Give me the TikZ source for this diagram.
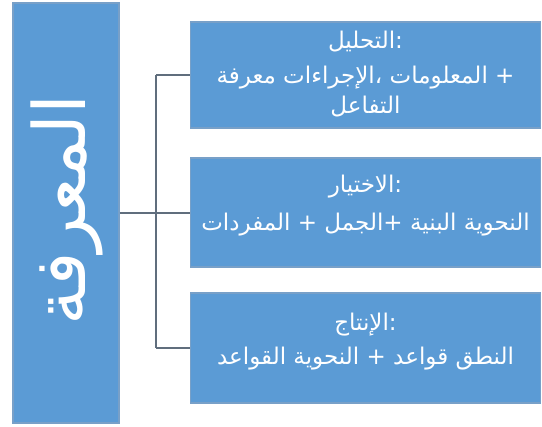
\documentclass[tikz,border=0pt]{standalone}
\usepackage{fontspec}
\newfontfamily\arabicfont[Script=Arabic]{DejaVu Sans}
\TeXXeTstate=1
\definecolor{boxblue}{RGB}{91,155,213}
\definecolor{boxedge}{RGB}{120,160,200}
\definecolor{linegrey}{RGB}{96,110,125}
\newcommand{\rw}[1]{\mbox{\beginR #1\endR}}
\tikzset{
  bluebox/.style={fill=boxblue, draw=boxedge, line width=1.5pt, inner sep=0pt},
  txt/.style={text=white, inner sep=0pt, font=\arabicfont\fontsize{23}{27}\selectfont}
}
\tikzset{conn/.style={draw=linegrey, line width=1.3pt}}
\begin{document}
\begin{tikzpicture}[x=1pt,y=-1pt]
\useasboundingbox (0,0) rectangle (542,427);
\node[bluebox, minimum width=106pt, minimum height=420pt] (m) at (66,213) {};
\node[text=white, rotate=90, font=\arabicfont\fontsize{72}{76}\selectfont] (mt) at (67,210) {\rw{المعرفة}};
\node[bluebox, minimum width=350pt, minimum height=106pt] (a) at (365.5,75) {};
\node[txt] (a1) at (365.5,42) {\rw{التحليل}:};
\node[txt] (a2) at (365.5,78) {\rw{معرفة} \rw{الإجراءات}، \rw{المعلومات} +};
\node[txt] (a3) at (365.5,107) {\rw{التفاعل}};
\node[bluebox, minimum width=350pt, minimum height=109pt] (b) at (365.5,212.5) {};
\node[txt] (b1) at (365.5,187) {\rw{الاختيار}:};
\node[txt] (b2) at (365.5,225) {\rw{المفردات} + \rw{الجمل}+ \rw{البنية} \rw{النحوية}};
\node[bluebox, minimum width=350pt, minimum height=110pt] (c) at (365.5,348) {};
\node[txt] (c1) at (365.5,325) {\rw{الإنتاج}:};
\node[txt] (c2) at (365.5,359) {\rw{القواعد} \rw{النحوية} + \rw{قواعد} \rw{النطق}};
\coordinate (j) at (156,213);
\coordinate (ja) at (156,75);
\coordinate (jc) at (156,348);
\draw[conn] (m.east |- j) -- (j);
\draw[conn] (ja) -- (jc);
\draw[conn] (ja) -- (a.west |- ja);
\draw[conn] (j) -- (b.west |- j);
\draw[conn] (jc) -- (c.west |- jc);
\end{tikzpicture}
\end{document}
